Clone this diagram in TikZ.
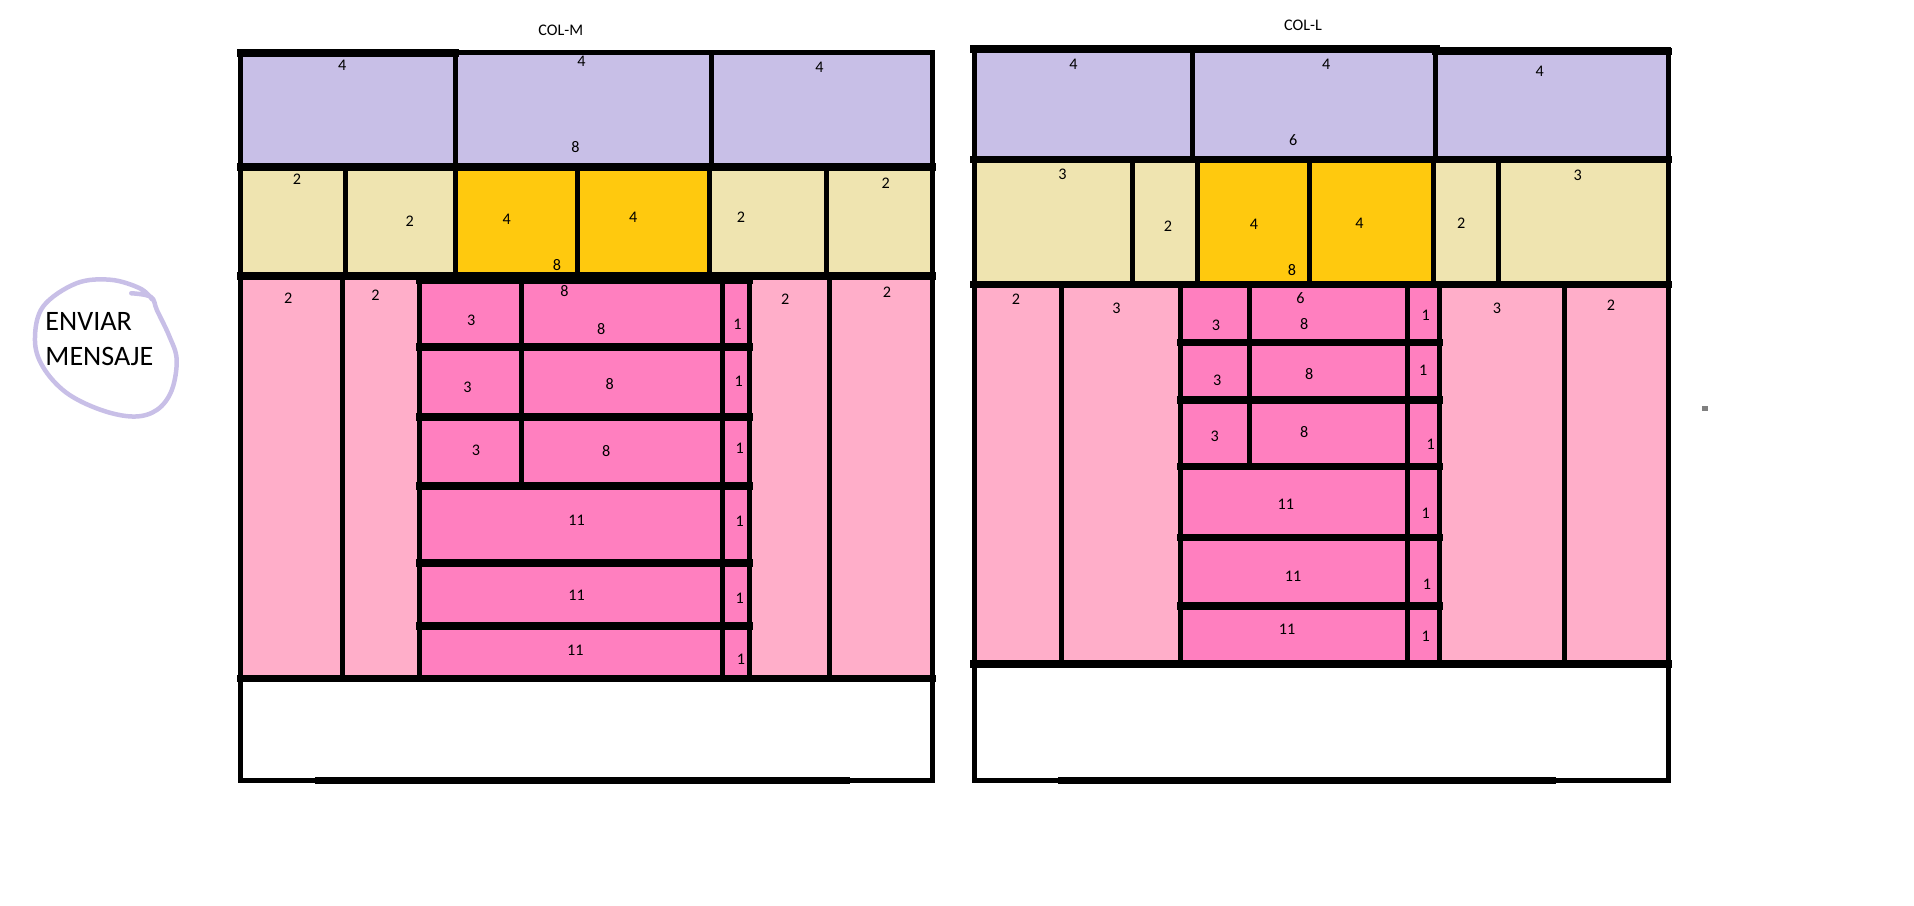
\documentclass[tikz,border=0pt]{standalone}
\usepackage{fontspec}
\setmainfont{Carlito}
\definecolor{lila}{HTML}{C8BFE7}
\definecolor{crema}{HTML}{EFE4B0}
\definecolor{oro}{HTML}{FFC90E}
\definecolor{rosa}{HTML}{FFAEC9}
\definecolor{fucsia}{HTML}{FF7FBF}
\tikzset{
  num/.style={font=\fontsize{4.6}{5}\selectfont, inner sep=0pt},
  wall/.style={line width=0.5mm, line cap=rect},
  bar/.style={line width=0.75mm, line cap=rect},
}
\begin{document}
\begin{tikzpicture}[x=0.1227mm, y=-0.1227mm]
    \useasboundingbox (0,0) rectangle (1560,738.4);
    % enviar mensaje
    \draw [lila, line width=0.45mm, line cap=round, line join=round] plot [smooth, tension=0.6] coordinates {(107,239) (123,242) (128,253) (138,274) (144,293) (140,318) (128,334) (109,339.5) (82,334) (54,320) (35,299) (28.5,277) (35,250) (62,231) (90,228) (114,235) (124,244)};
    \node [anchor=base west, inner sep=0pt, font=\fontsize{8}{10}\selectfont] (env1) at (36.5,269) {ENVIAR};
    \node [anchor=base west, inner sep=0pt, font=\fontsize{8}{10}\selectfont] (env2) at (36.5,297.5) {MENSAJE};
    % COL-M
    \node [num] (mtit) at (457,25) {COL-M};
    \fill [lila] (196,43) rectangle (760,136);
    \fill [crema] (196,136) rectangle (760,225);
    \fill [oro] (371,136) rectangle (578,225);
    \fill [rosa] (196,225) rectangle (760,553);
    \fill [fucsia] (342,225) rectangle (611,553);
    \draw [wall] (196,43) rectangle (760,636);
    \draw [bar] (196,43) -- (371,43);
    \draw [wall] (371,43) -- (371,136);
    \draw [wall] (580,43) -- (580,136);
    \draw [bar] (196,136) -- (760,136);
    \draw [bar] (196,225) -- (760,225);
    \draw [bar] (342,228) -- (611,228);
    \draw [bar] (196,553) -- (760,553);
    \draw [bar] (260,636) -- (690,636);
    \draw [wall] (282,136) -- (282,225);
    \draw [wall] (371,136) -- (371,225);
    \draw [wall] (471,136) -- (471,225);
    \draw [wall] (578,136) -- (578,225);
    \draw [wall] (674,136) -- (674,225);
    \draw [wall] (279,225) -- (279,553);
    \draw [wall] (342,225) -- (342,553);
    \draw [wall] (611,225) -- (611,553);
    \draw [wall] (676,225) -- (676,553);
    \draw [wall] (425,225) -- (425,396);
    \draw [wall] (589,225) -- (589,553);
    \foreach \y in {283,340,396,459,510}
        \draw [bar] (342,\y) -- (611,\y);
    \node [num] (m1) at (279,53) {4};
    \node [num] (m2) at (474,50) {4};
    \node [num] (m3) at (469,120) {8};
    \node [num] (m4) at (668,55) {4};
    \node [num] (m5) at (242,146) {2};
    \node [num] (m6) at (334,180) {2};
    \node [num] (m7) at (413,179) {4};
    \node [num] (m8) at (454,216) {8};
    \node [num] (m9) at (516,177) {4};
    \node [num] (m10) at (604,177) {2};
    \node [num] (m11) at (722,149) {2};
    \node [num] (m12) at (235,243) {2};
    \node [num] (m13) at (306,241) {2};
    \node [num] (m14) at (640,244) {2};
    \node [num] (m15) at (723,238) {2};
    \node [num] (m16) at (460,237) {8};
    \node [num] (m17) at (384,261) {3};
    \node [num] (m18) at (490,268) {8};
    \node [num] (m19) at (601,264) {1};
    \node [num] (m20) at (381,316) {3};
    \node [num] (m21) at (497,313) {8};
    \node [num] (m22) at (602,311) {1};
    \node [num] (m23) at (388,367) {3};
    \node [num] (m24) at (494,368) {8};
    \node [num] (m25) at (603,365) {1};
    \node [num] (m26) at (470,424) {11};
    \node [num] (m27) at (603,425) {1};
    \node [num] (m28) at (470,485) {11};
    \node [num] (m29) at (603,488) {1};
    \node [num] (m30) at (469,530) {11};
    \node [num] (m31) at (604,537) {1};
    % COL-L
    \node [num] (ltit) at (1062,21) {COL-L};
    \fill [lila] (794,40) rectangle (1360,130);
    \fill [crema] (794,130) rectangle (1360,232);
    \fill [oro] (976,130) rectangle (1168,232);
    \fill [rosa] (794,232) rectangle (1360,541);
    \fill [fucsia] (962,232) rectangle (1173,541);
    \draw [wall] (794,40) rectangle (1360,636);
    \draw [line width=0.8mm, line cap=rect] (794,40) -- (1170,40);
    \draw [line width=0.7mm, line cap=rect] (1170,42) -- (1360,42);
    \draw [wall] (972,40) -- (972,130);
    \draw [wall] (1170,40) -- (1170,130);
    \draw [bar] (794,130) -- (1360,130);
    \draw [bar] (794,232) -- (1360,232);
    \draw [bar] (794,541) -- (1360,541);
    \draw [bar] (865,636) -- (1265,636);
    \draw [wall] (923,130) -- (923,232);
    \draw [wall] (976,130) -- (976,232);
    \draw [wall] (1067,130) -- (1067,232);
    \draw [wall] (1168,130) -- (1168,232);
    \draw [wall] (1221,130) -- (1221,232);
    \draw [wall] (865,232) -- (865,541);
    \draw [wall] (962,232) -- (962,541);
    \draw [wall] (1173,232) -- (1173,541);
    \draw [wall] (1275,232) -- (1275,541);
    \draw [wall] (1018,232) -- (1018,380);
    \draw [wall] (1147,232) -- (1147,541);
    \foreach \y in {279,326,380,438,494}
        \draw [bar] (962,\y) -- (1173,\y);
    \node [num] (l1) at (875,52) {4};
    \node [num] (l2) at (1081,52) {4};
    \node [num] (l3) at (1054,114) {6};
    \node [num] (l4) at (1255,58) {4};
    \node [num] (l5) at (866,142) {3};
    \node [num] (l6) at (952,184) {2};
    \node [num] (l7) at (1022,183) {4};
    \node [num] (l8) at (1053,220) {8};
    \node [num] (l9) at (1108,182) {4};
    \node [num] (l10) at (1191,182) {2};
    \node [num] (l11) at (1286,143) {3};
    \node [num] (l12) at (828,244) {2};
    \node [num] (l13) at (910,251) {3};
    \node [num] (l14) at (1220,251) {3};
    \node [num] (l15) at (1313,249) {2};
    \node [num] (l16) at (1060,243) {6};
    \node [num] (l17) at (991,265) {3};
    \node [num] (l18) at (1063,264) {8};
    \node [num] (l19) at (1162,257) {1};
    \node [num] (l20) at (992,310) {3};
    \node [num] (l21) at (1067,305) {8};
    \node [num] (l22) at (1160,302) {1};
    \node [num] (l23) at (990,356) {3};
    \node [num] (l24) at (1063,352) {8};
    \node [num] (l25) at (1166,362) {1};
    \node [num] (l26) at (1048,411) {11};
    \node [num] (l27) at (1162,418) {1};
    \node [num] (l28) at (1054,470) {11};
    \node [num] (l29) at (1163,476) {1};
    \node [num] (l30) at (1049,513) {11};
    \node [num] (l31) at (1162,519) {1};
    \fill [gray] (1387,330.5) rectangle (1392,335);
\end{tikzpicture}
\end{document}
